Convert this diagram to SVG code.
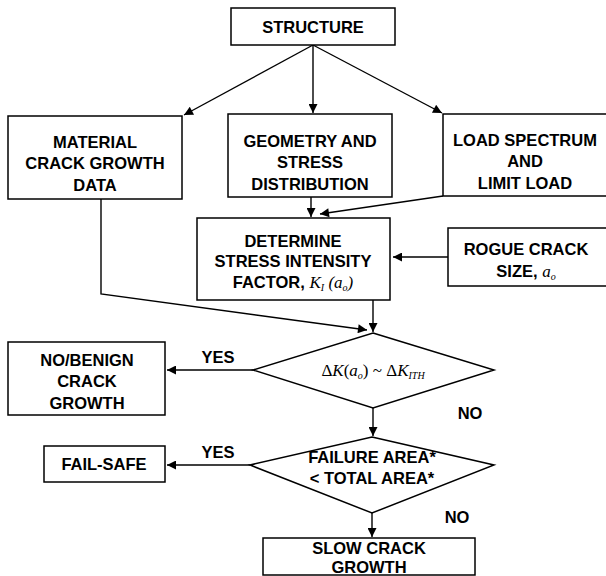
<svg xmlns="http://www.w3.org/2000/svg" width="606" height="576" viewBox="0 0 606 576">
<defs>
<marker id="ah" viewBox="0 0 10 10" refX="10" refY="5" markerWidth="11" markerHeight="9" markerUnits="userSpaceOnUse" orient="auto">
<path d="M0,0 L10,5 L0,10 Z" fill="#000"/>
</marker>
<style>
.box{fill:#fff;stroke:#000;stroke-width:1.5}
.t{font-family:"Liberation Sans",Arial,sans-serif;font-weight:bold;font-size:16.5px;fill:#000;text-anchor:middle}
.m{font-family:"Liberation Serif","Times New Roman",serif;font-style:italic;font-weight:normal}
.c{fill:none;stroke:#000;stroke-width:1.4;marker-end:url(#ah)}
</style>
</defs>
<rect width="606" height="576" fill="#fff"/>
<g id="connectors">
<path class="c" d="M313,45 L184,115"/>
<path class="c" d="M313,45 L313,113"/>
<path class="c" d="M313,45 L442,113"/>
<path class="c" d="M311,197 L311,217"/>
<path class="c" d="M443,196 L320,214"/>
<path class="c" d="M101,199 L101,294 L367,330"/>
<path class="c" d="M448,257 L393,257"/>
<path class="c" d="M373,300 L373,332"/>
<path class="c" d="M253,370 L167,370"/>
<path class="c" d="M373,408 L373,436"/>
<path class="c" d="M250,465 L167,465"/>
<path class="c" d="M372,513 L372,537"/>
</g>
<g id="structure">
<rect class="box" x="231" y="8" width="164" height="37"/>
<text class="t" x="313" y="33">STRUCTURE</text>
</g>
<g id="material">
<rect class="box" x="8" y="116" width="174" height="83"/>
<text class="t" x="95" y="148">MATERIAL</text>
<text class="t" x="95" y="169">CRACK GROWTH</text>
<text class="t" x="95" y="191">DATA</text>
</g>
<g id="geometry">
<rect class="box" x="228" y="114" width="164" height="83"/>
<text class="t" x="310" y="147">GEOMETRY AND</text>
<text class="t" x="310" y="168">STRESS</text>
<text class="t" x="310" y="190">DISTRIBUTION</text>
</g>
<g id="load">
<rect class="box" x="443" y="114" width="175" height="82"/>
<text class="t" x="525" y="146">LOAD SPECTRUM</text>
<text class="t" x="525" y="167">AND</text>
<text class="t" x="525" y="189">LIMIT LOAD</text>
</g>
<g id="determine">
<rect class="box" x="197" y="218" width="193" height="82"/>
<text class="t" x="293" y="247">DETERMINE</text>
<text class="t" x="293" y="267">STRESS INTENSITY</text>
<text class="t" x="293" y="288">FACTOR, <tspan class="m" font-size="17">K</tspan><tspan class="m" font-size="10" dy="3">I</tspan><tspan class="m" font-size="17" dy="-3"> (a</tspan><tspan class="m" font-size="10" dy="3">o</tspan><tspan class="m" font-size="17" dy="-3">)</tspan></text>
</g>
<g id="rogue">
<rect class="box" x="448" y="228" width="170" height="58"/>
<text class="t" x="526" y="255">ROGUE CRACK</text>
<text class="t" x="526" y="277">SIZE, <tspan class="m" font-size="17">a</tspan><tspan class="m" font-size="10" dy="3">o</tspan></text>
</g>
<g id="threshold">
<path class="box" d="M373,333 L494,370 L373,408 L253,370 Z"/>
<text class="t" x="373" y="376" style="font-family:'Liberation Serif','Times New Roman',serif;font-weight:normal;font-size:17px">Δ<tspan font-style="italic">K</tspan>(<tspan font-style="italic">a</tspan><tspan font-style="italic" font-size="10" dy="3">o</tspan><tspan dy="-3">) ~ Δ</tspan><tspan font-style="italic">K</tspan><tspan font-style="italic" font-size="10" dy="3">ITH</tspan></text>
</g>
<g id="benign">
<rect class="box" x="8" y="342" width="157" height="73"/>
<text class="t" x="87" y="366">NO/BENIGN</text>
<text class="t" x="87" y="387">CRACK</text>
<text class="t" x="87" y="409">GROWTH</text>
</g>
<g id="area">
<path class="box" d="M372,437 L494,465 L372,513 L250,465 Z"/>
<text class="t" x="372" y="463">FAILURE AREA*</text>
<text class="t" x="372" y="484">&lt; TOTAL AREA*</text>
</g>
<g id="failsafe">
<rect class="box" x="44" y="446" width="121" height="36"/>
<text class="t" x="104" y="470">FAIL-SAFE</text>
</g>
<g id="slow">
<rect class="box" x="263" y="538" width="212" height="37"/>
<text class="t" x="369" y="554">SLOW CRACK</text>
<text class="t" x="369" y="573">GROWTH</text>
</g>
<g id="labels">
<text class="t" x="218" y="363">YES</text>
<text class="t" x="218" y="458">YES</text>
<text class="t" x="470" y="419">NO</text>
<text class="t" x="457" y="523">NO</text>
</g>
</svg>
